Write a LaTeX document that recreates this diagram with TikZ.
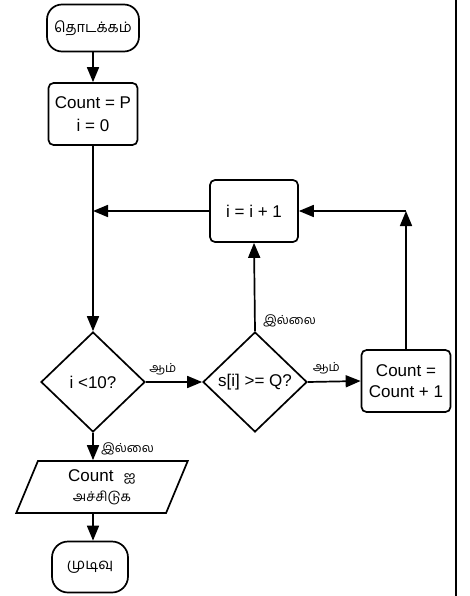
\documentclass[tikz,border=0pt]{standalone}
\usepackage{fontspec}
\setmainfont{Liberation Sans}
\newfontfamily\tamil[Script=Tamil]{Hind Madurai}
\usetikzlibrary{shapes.geometric,arrows.meta}
\begin{document}
\begin{tikzpicture}[x=1pt,y=-1pt,
  every node/.style={font=\fontsize{17}{21}\selectfont},
  term/.style={draw, line width=1.7pt, rounded corners=15pt, inner sep=0pt},
  proc/.style={draw, line width=1.7pt, rounded corners=5pt, inner sep=0pt, align=center},
  dia/.style={draw, line width=1.7pt, diamond, inner sep=0pt, minimum width=104pt, minimum height=100pt},
  io/.style={draw, line width=1.7pt, trapezium, trapezium left angle=72, trapezium right angle=108,
     trapezium stretches=true, minimum width=172pt, minimum height=52pt, inner sep=0pt, align=center},
  arr/.style={line width=1.7pt, -{Triangle[length=15pt,width=12pt]}},
  lab/.style={font=\tamil\fontsize{12.5}{14}\selectfont}
]
\useasboundingbox (0,0) rectangle (469,596);
% page border line
\draw[line width=1.7pt] (456,0) -- (456,596);

\node[term, minimum width=92pt, minimum height=47pt] (start) at (93,28) {\tamil\fontsize{14.5}{16}\selectfont தொடக்கம்};
\node[proc, minimum width=89pt, minimum height=62pt] (init) at (93,114) {Count = P\\[2pt] i = 0};
\node[proc, minimum width=88pt, minimum height=62pt] (inc) at (254,211) {i = i + 1};
\node[dia, label=center:{i <10?}] (d1) at (93,382) {};
\node[dia, label=center:{s[i] >= Q?}] (d2) at (255,382) {};
\node[proc, minimum width=89pt, minimum height=62pt] (cnt) at (406,381) {Count =\\ Count + 1};
\node[io] (pout) at (102,487) {Count\hspace{0.6em}{\tamil\fontsize{14}{15}\selectfont ஐ}\\[-1pt]{\tamil\fontsize{13.5}{15}\selectfont அச்சிடுக}};
\node[term, minimum width=76pt, minimum height=51pt, rounded corners=16pt] (stop) at (90,567) {\tamil\fontsize{15}{16}\selectfont முடிவு};

\coordinate (join) at (inc.west -| init.south);
\coordinate (corner) at (cnt.north |- inc.east);

\draw[arr] (start) -- (init);
\draw[arr] (init.south) -- (d1.north);
\draw[arr] (inc.west) -- (join);
\draw[arr] (d1.east) -- node[lab, above=3pt, pos=0.3] (yes1) {ஆம்} (d2.west);
\draw[arr] (d2.north) -- node[lab, right=4pt, pos=0.12] (no2) {இல்லை} (inc.south);
\draw[arr] (d2.east) -- node[lab, above=3pt, pos=0.35] (yes2) {ஆம்} (cnt.west);
\draw[arr] (cnt.north) -- (corner);
\draw[arr] (corner) -- (inc.east);
\draw[arr] (d1.south) -- node[lab, right=4pt, pos=0.6] (no1) {இல்லை} (d1.south |- pout.north);
\draw[arr] (d1.south |- pout.south) -- (d1.south |- stop.north);
\end{tikzpicture}
\end{document}
